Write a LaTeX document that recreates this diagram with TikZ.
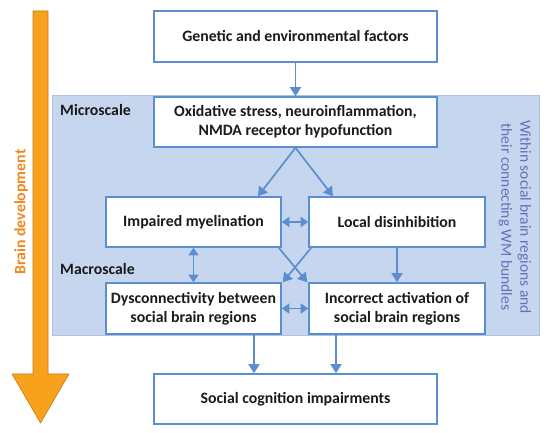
\documentclass[tikz,border=0pt]{standalone}
\usepackage{fontspec}
\setmainfont{Carlito}
\usetikzlibrary{arrows.meta}
\definecolor{bxblue}{HTML}{5B8ED0}
\definecolor{bgblue}{HTML}{C6D6EE}
\definecolor{bgedge}{HTML}{AEC2E2}
\definecolor{orng}{HTML}{F7A11C}
\definecolor{orngdk}{HTML}{C47E12}
\definecolor{orngtxt}{HTML}{F0881A}
\definecolor{sidetxt}{HTML}{6A6DB8}
\definecolor{txt}{HTML}{1A1A1A}
\tikzset{
  box/.style={draw=bxblue, line width=1.6pt, fill=white, inner sep=0pt,
    align=center, font=\fontsize{15.8}{19}\selectfont\bfseries, text=txt},
  conn/.style={draw=bxblue, line width=1.7pt, -{Triangle[width=11pt,length=9pt]}},
  dconn/.style={draw=bxblue, line width=1.7pt, {Triangle[width=10pt,length=7.5pt]}-{Triangle[width=10pt,length=7.5pt]}},
  scalelbl/.style={font=\fontsize{15.8}{19}\selectfont\bfseries, text=txt, inner sep=0pt}
}
\begin{document}
\begin{tikzpicture}[x=1pt,y=-1pt]
\useasboundingbox (0,0) rectangle (550,433);
\fill[white] (0,0) rectangle (550,433);
% background region
\filldraw[fill=bgblue, draw=bgedge, line width=0.8pt] (52,95) rectangle (539,335);
% brain development arrow
\filldraw[fill=orng, draw=orngdk, line width=0.6pt]
  (33,11) -- (48,11) -- (48,374) -- (69,374) -- (40.5,423) -- (12,374) -- (33,374) -- cycle;
\node[rotate=90, font=\fontsize{15.8}{19}\selectfont\bfseries, text=orngtxt, inner sep=0pt] (bd) at (21,212) {Brain development};
% scale labels
\node[scalelbl, anchor=west] (micro) at (60,110) {Microscale};
\node[scalelbl, anchor=west] (macro) at (60,269) {Macroscale};
\node[rotate=-90, font=\fontsize{15.5}{19}\selectfont, text=sidetxt, align=center, inner sep=0pt] (side) at (515,217) {Within social brain regions and\\their connecting WM bundles};
% boxes
\node[box, minimum width=283pt, minimum height=51pt] (gen) at (295.5,36.5) {Genetic and environmental factors};
\node[box, minimum width=283pt, minimum height=50pt] (ox) at (295.5,122) {Oxidative stress, neuroinflammation,\\NMDA receptor hypofunction};
\node[box, minimum width=175pt, minimum height=50pt] (mye) at (193.5,222) {Impaired myelination};
\node[box, minimum width=176pt, minimum height=50pt] (dis) at (397,222) {Local disinhibition};
\node[box, minimum width=175pt, minimum height=51pt] (dys) at (193.5,308.5) {Dysconnectivity between\\social brain regions};
\node[box, minimum width=176pt, minimum height=51pt] (inc) at (397,308.5) {Incorrect activation of\\social brain regions};
\node[box, minimum width=283pt, minimum height=50pt] (soc) at (295.5,399) {Social cognition impairments};
% connectors
\draw[conn] (gen.south) -- (ox.north);
\draw[conn] (ox.south) -- ([xshift=64.5pt]mye.north);
\draw[conn] (ox.south) -- ([xshift=-64pt]dis.north);
\draw[conn] (dis.south) -- (inc.north);
\draw[dconn] (mye.east) -- (dis.west);
\draw[dconn] (mye.south) -- (dys.north);
\draw[dconn] (dys.east) -- (inc.west);
\draw[conn] ([xshift=-3pt]mye.south east) -- ([xshift=-1pt]inc.north west);
\draw[conn] ([xshift=3pt]dis.south west) -- ([xshift=1pt]dys.north east);
\draw[conn] ([xshift=60.5pt]dys.south) -- ([xshift=60.5pt]dys.south |- soc.north);
\draw[conn] ([xshift=-61pt]inc.south) -- ([xshift=-61pt]inc.south |- soc.north);
\end{tikzpicture}
\end{document}
